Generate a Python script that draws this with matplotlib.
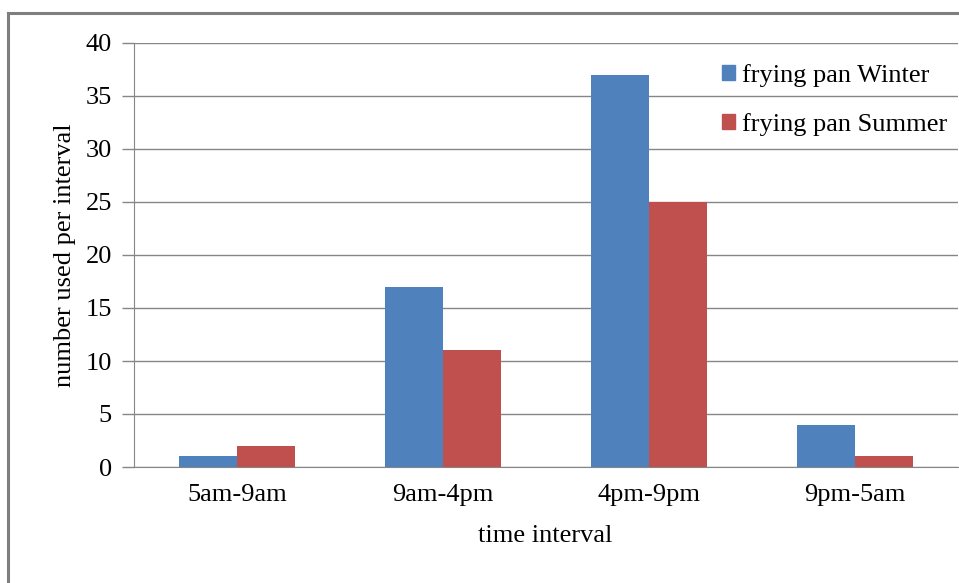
import numpy as np
import matplotlib.pyplot as plt
from matplotlib.lines import Line2D
from matplotlib.patches import Patch

categories = ['5am-9am', '9am-4pm', '4pm-9pm', '9pm-5am']
winter = [1, 17, 37, 4]
summer = [2, 11, 25, 1]
yticks = [0, 5, 10, 15, 20, 25, 30, 35, 40]

plt.rcParams['font.family'] = ['Liberation Serif', 'DejaVu Serif']
FS = 19

W, H = 959, 583
fig = plt.figure(figsize=(W / 100, H / 100), dpi=100)
ax = fig.add_axes([134 / W, 1 - 467 / H, (958 - 134) / W, (467 - 43) / H])

x = np.arange(len(categories))
bw = 0.28
ax.bar(x - bw / 2, winter, bw, color='#4F81BD', zorder=3)
ax.bar(x + bw / 2, summer, bw, color='#C0504D', zorder=3)

ax.set_xlim(-0.5, len(categories) - 0.5)
ax.set_ylim(0, 40)
ax.set_yticks(yticks)
ax.set_xticks(x)
ax.set_xticklabels(categories, fontsize=FS)
ax.tick_params(axis='y', labelsize=FS, length=9, color='#868686', width=1, pad=7)
ax.tick_params(axis='x', length=0, pad=12)
ax.yaxis.grid(True, color='#868686', linewidth=1, zorder=0)
for s in ['top', 'right']:
    ax.spines[s].set_visible(False)
ax.spines['left'].set_color('#868686')
ax.spines['bottom'].set_color('#868686')

fig.text(65 / W, 1 - 255 / H, 'number used per interval', rotation=90,
         ha='center', va='center', fontsize=FS)
fig.text(545 / W, 1 - 536 / H, 'time interval', ha='center', va='center', fontsize=FS)

handles = [Patch(color='#4F81BD'), Patch(color='#C0504D')]
fig.legend(handles, ['frying pan Winter', 'frying pan Summer'],
           loc='upper left', bbox_to_anchor=(722 / W, 1 - 64 / H), frameon=False,
           fontsize=FS, handlelength=0.5, handleheight=0.5, handletextpad=0.27,
           labelspacing=0.98, borderaxespad=0, borderpad=0)

# outer chart border
fig.add_artist(Line2D([8 / W, 8 / W], [0, 1 - 13 / H], color='#7F7F7F', linewidth=2.2,
                      transform=fig.transFigure))
fig.add_artist(Line2D([8 / W, 1], [1 - 13 / H, 1 - 13 / H], color='#7F7F7F', linewidth=2.2,
                      transform=fig.transFigure))

fig.savefig('out.png', dpi=100)
